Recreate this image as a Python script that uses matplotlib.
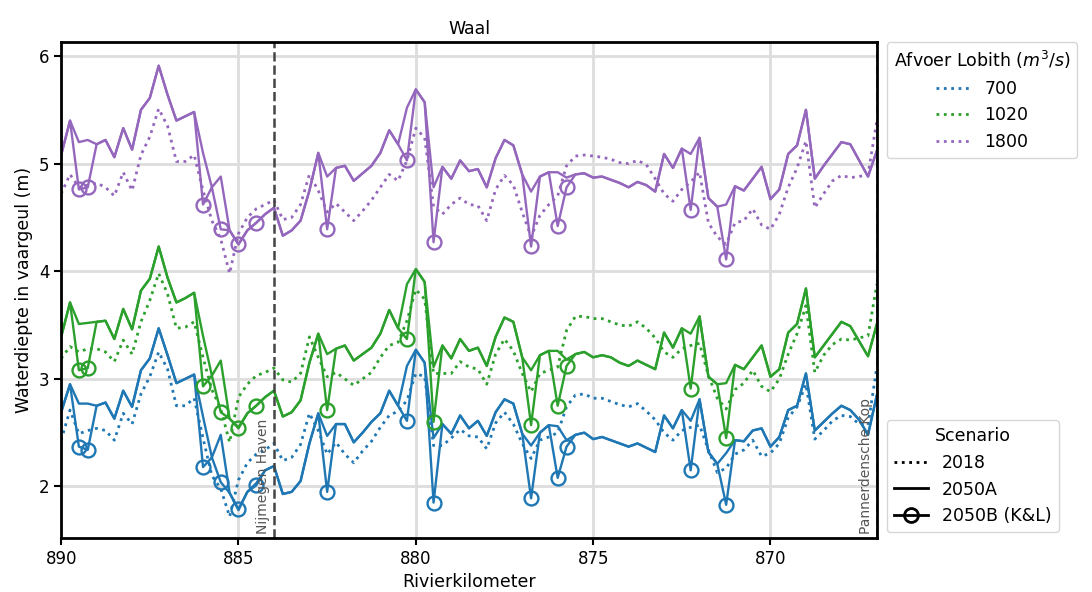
import numpy as np
import matplotlib
matplotlib.use("Agg")
import matplotlib.pyplot as plt
from matplotlib.lines import Line2D

# river km, every 0.25 km from Lobith side downstream (890 -> 867)
km = np.arange(890.0, 866.99, -0.25)

# 2018, dotted
q700_2018 = [2.43, 2.71, 2.49, 2.52, 2.54, 2.52, 2.43, 2.68, 2.58, 2.86, 3.02, 3.25, 3.09, 2.75, 2.75, 2.82,
             2.45, 2.10, 1.98, 1.72, 2.06, 2.22, 2.30, 2.34, 2.40, 2.24, 2.27, 2.39, 2.68, 2.52, 2.30, 2.41,
             2.30, 2.22, 2.33, 2.42, 2.55, 2.66, 2.70, 2.80, 3.05, 3.02, 2.38, 2.38, 2.45, 2.53, 2.47, 2.46,
             2.35, 2.59, 2.69, 2.58, 2.40, 2.26, 2.43, 2.46, 2.50, 2.74, 2.85, 2.86, 2.82, 2.82, 2.79, 2.76,
             2.74, 2.77, 2.70, 2.62, 2.50, 2.43, 2.52, 2.55, 2.57, 2.34, 2.13, 2.17, 2.30, 2.34, 2.43, 2.28,
             2.31, 2.40, 2.64, 2.74, 2.95, 2.44, 2.52, 2.61, 2.66, 2.65, 2.58, 2.57, 3.11]
q1020_2018 = [3.19, 3.30, 3.25, 3.28, 3.28, 3.25, 3.16, 3.36, 3.23, 3.53, 3.73, 3.98, 3.79, 3.47, 3.48, 3.53,
              3.20, 2.90, 2.72, 2.41, 2.83, 2.95, 3.03, 3.06, 3.10, 2.99, 2.97, 3.05, 3.39, 3.20, 3.02, 3.06,
              3.00, 2.94, 3.00, 3.06, 3.20, 3.31, 3.34, 3.54, 3.83, 3.74, 3.05, 3.05, 3.05, 3.16, 3.11, 3.09,
              2.95, 3.23, 3.37, 3.26, 3.05, 2.88, 3.05, 3.08, 3.11, 3.45, 3.58, 3.58, 3.56, 3.56, 3.53, 3.50,
              3.49, 3.53, 3.47, 3.38, 3.25, 3.20, 3.28, 3.31, 3.33, 3.03, 2.82, 2.72, 2.90, 2.96, 3.08, 2.93,
              2.88, 3.00, 3.23, 3.42, 3.68, 3.06, 3.22, 3.32, 3.37, 3.36, 3.38, 3.40, 3.88]
q1800_2018 = [4.72, 4.90, 4.78, 4.80, 4.82, 4.78, 4.70, 4.92, 4.75, 5.08, 5.25, 5.51, 5.35, 5.02, 5.02, 5.08,
              4.75, 4.47, 4.30, 3.98, 4.35, 4.50, 4.58, 4.62, 4.66, 4.48, 4.50, 4.62, 4.90, 4.75, 4.55, 4.63,
              4.55, 4.47, 4.56, 4.66, 4.78, 4.90, 4.84, 5.03, 5.33, 5.24, 4.60, 4.53, 4.62, 4.68, 4.62, 4.61,
              4.47, 4.76, 4.89, 4.80, 4.55, 4.32, 4.52, 4.62, 4.70, 4.98, 5.07, 5.08, 5.07, 5.06, 5.04, 5.01,
              5.00, 5.03, 4.99, 4.86, 4.72, 4.65, 4.76, 4.83, 4.92, 4.45, 4.32, 4.25, 4.45, 4.47, 4.58, 4.43,
              4.39, 4.53, 4.78, 4.96, 5.21, 4.59, 4.72, 4.84, 4.89, 4.87, 4.88, 4.90, 5.40]

# 2050A, solid
q700_2050a = [2.69, 2.95, 2.77, 2.77, 2.75, 2.78, 2.63, 2.89, 2.74, 3.08, 3.19, 3.47, 3.22, 2.96, 3.00, 3.04,
              2.65, 2.27, 2.48, 1.94, 1.78, 1.95, 2.03, 2.15, 2.19, 1.93, 1.95, 2.05, 2.40, 2.68, 2.47, 2.58,
              2.58, 2.41, 2.50, 2.60, 2.68, 2.89, 2.75, 3.12, 3.27, 3.15, 2.45, 2.58, 2.49, 2.66, 2.54, 2.61,
              2.47, 2.69, 2.81, 2.77, 2.49, 2.38, 2.50, 2.57, 2.56, 2.43, 2.48, 2.50, 2.44, 2.46, 2.43, 2.40,
              2.37, 2.40, 2.36, 2.32, 2.66, 2.54, 2.71, 2.61, 2.81, 2.32, 2.21, 2.31, 2.43, 2.42, 2.52, 2.54,
              2.37, 2.46, 2.71, 2.75, 3.05, 2.52, 2.60, 2.68, 2.75, 2.71, 2.62, 2.48, 2.85]
q1020_2050a = [3.39, 3.71, 3.51, 3.52, 3.53, 3.54, 3.37, 3.65, 3.46, 3.82, 3.93, 4.23, 3.94, 3.71, 3.75, 3.80,
               3.40, 3.03, 3.17, 2.63, 2.55, 2.68, 2.75, 2.83, 2.89, 2.65, 2.69, 2.80, 3.15, 3.42, 3.23, 3.28,
               3.31, 3.17, 3.23, 3.29, 3.42, 3.64, 3.47, 3.88, 4.02, 3.90, 3.11, 3.31, 3.19, 3.37, 3.26, 3.29,
               3.12, 3.39, 3.57, 3.53, 3.20, 3.08, 3.22, 3.26, 3.26, 3.18, 3.23, 3.25, 3.20, 3.22, 3.20, 3.15,
               3.12, 3.17, 3.13, 3.09, 3.43, 3.29, 3.47, 3.42, 3.58, 3.02, 2.95, 2.96, 3.13, 3.09, 3.20, 3.31,
               3.02, 3.09, 3.43, 3.51, 3.84, 3.20, 3.31, 3.42, 3.53, 3.49, 3.35, 3.21, 3.51]
q1800_2050a = [5.08, 5.40, 5.20, 5.22, 5.18, 5.22, 5.06, 5.33, 5.13, 5.50, 5.61, 5.91, 5.64, 5.40, 5.44, 5.48,
               5.10, 4.78, 4.88, 4.38, 4.25, 4.38, 4.45, 4.53, 4.59, 4.33, 4.38, 4.47, 4.75, 5.10, 4.88, 4.96,
               4.98, 4.84, 4.91, 4.98, 5.10, 5.31, 5.18, 5.52, 5.69, 5.57, 4.78, 4.97, 4.86, 5.03, 4.93, 4.95,
               4.78, 5.05, 5.22, 5.17, 4.90, 4.74, 4.88, 4.92, 4.92, 4.87, 4.90, 4.91, 4.87, 4.88, 4.85, 4.82,
               4.78, 4.83, 4.80, 4.74, 5.09, 4.96, 5.14, 5.09, 5.24, 4.68, 4.60, 4.62, 4.79, 4.75, 4.86, 4.97,
               4.67, 4.76, 5.09, 5.17, 5.50, 4.86, 4.98, 5.09, 5.20, 5.18, 5.03, 4.88, 5.12]

# 2050B (K&L): differs from 2050A only at these locations
kl_km = [889.5, 889.25, 886.0, 885.5, 885.0, 884.5, 882.5, 880.25, 879.5, 876.75, 876.0, 875.75, 872.25, 871.25]
kl_700 = [2.37, 2.34, 2.18, 2.04, 1.79, 2.01, 1.95, 2.61, 1.85, 1.89, 2.08, 2.37, 2.15, 1.83]
kl_1020 = [3.08, 3.10, 2.93, 2.69, 2.54, 2.75, 2.71, 3.37, 2.60, 2.57, 2.75, 3.12, 2.91, 2.45]
kl_1800 = [4.76, 4.78, 4.62, 4.39, 4.25, 4.45, 4.39, 5.03, 4.27, 4.23, 4.42, 4.78, 4.57, 4.11]

afvoer = ['700', '1020', '1800']
kleuren = ['tab:blue', 'tab:green', 'tab:purple']

series = {
    '700': (q700_2018, q700_2050a, kl_700),
    '1020': (q1020_2018, q1020_2050a, kl_1020),
    '1800': (q1800_2018, q1800_2050a, kl_1800),
}

fig = plt.figure(figsize=(10.92, 5.92), dpi=100)
ax = fig.add_axes([0.056, 0.091, 0.747, 0.838])

kl_idx = [int(round((890.0 - k) / 0.25)) for k in kl_km]

for q, c in zip(afvoer, kleuren):
    v2018, v2050a, vkl = series[q]
    v2050b = np.array(v2050a, dtype=float)
    v2050b[kl_idx] = vkl
    ax.plot(km, v2018, ls=':', color=c, lw=2)
    ax.plot(km, v2050a, ls='-', color=c, lw=1.7)
    ax.plot(km, v2050b, ls='-', color=c, lw=1.7, marker='o', markevery=kl_idx,
            ms=10, mfc='none', mew=1.7)

# locations
ax.axvline(884, color='#444444', ls='--', lw=1.8)
ax.axvline(867, color='#444444', ls='--', lw=1.8)
ax.text(884.12, 1.56, 'Nijmegen Haven', rotation=90, ha='right', va='bottom', color='#555555', fontsize=10)
ax.text(867.12, 1.56, 'Pannerdensche Kop', rotation=90, ha='right', va='bottom', color='#555555', fontsize=10)

ax.set_xlim(890, 867)
ax.set_ylim(1.52, 6.13)
ax.set_xticks([890, 885, 880, 875, 870])
ax.set_yticks([2, 3, 4, 5, 6])
ax.grid(True, color='#dddddd', lw=2)
ax.set_axisbelow(True)
for s in ax.spines.values():
    s.set_linewidth(2)
ax.tick_params(width=1.5, length=5, labelsize=12)

ax.set_title('Waal', fontsize=12.5)
ax.set_xlabel('Rivierkilometer', fontsize=12.5)
ax.set_ylabel('Waterdiepte in vaargeul (m)', fontsize=12.5)

h1 = [Line2D([], [], color=c, ls=':', lw=2) for c in kleuren]
leg1 = ax.legend(h1, afvoer, title='Afvoer Lobith ($m^3/s$)', loc='upper left',
                 bbox_to_anchor=(1.012, 1.0), fontsize=12.5, title_fontsize=12.5, borderaxespad=0)
ax.add_artist(leg1)

h2 = [Line2D([], [], color='k', ls=':', lw=2),
      Line2D([], [], color='k', ls='-', lw=2),
      Line2D([], [], color='k', ls='-', lw=2, marker='o', ms=10, mfc='none', mew=2)]
ax.legend(h2, ['2018', '2050A', '2050B (K&L)'], title='Scenario', loc='lower left',
          bbox_to_anchor=(1.012, 0.012), fontsize=12.5, title_fontsize=12.5, borderaxespad=0)

fig.savefig('out.png', dpi=100)
